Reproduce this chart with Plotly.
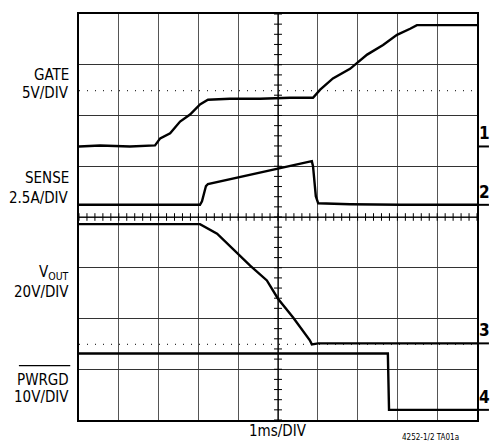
import plotly.graph_objects as go

# ---- data (x in ms = divisions, y in vertical divisions, 0 = bottom) ----
gate_x = [0, 0.53, 1.28, 1.91, 2.04, 2.29, 2.54, 2.79, 3.04, 3.24, 3.79, 4.55, 5.30, 5.88,
          6.06, 6.38, 6.81, 7.24, 7.64, 7.99, 8.32, 8.49, 9.07, 10]
gate_y = [5.39, 5.41, 5.39, 5.41, 5.55, 5.65, 5.88, 6.02, 6.22, 6.31, 6.33, 6.33, 6.35, 6.35,
          6.51, 6.73, 6.92, 7.20, 7.39, 7.59, 7.71, 7.78, 7.78, 7.78]

sense_x = [0, 3.04, 3.09, 3.19, 3.24, 3.87, 4.30, 5.0, 5.55, 5.85, 5.88, 5.95, 6.01, 6.81, 8.07, 10]
sense_y = [4.24, 4.24, 4.31, 4.61, 4.65, 4.76, 4.84, 4.96, 5.06, 5.10, 5.0, 4.41, 4.27, 4.25, 4.24, 4.24]

vout_x = [0, 3.04, 3.47, 3.87, 4.30, 4.72, 5.0, 5.38, 5.80, 5.85, 6.01, 10]
vout_y = [3.86, 3.86, 3.67, 3.37, 3.04, 2.75, 2.39, 2.02, 1.57, 1.49, 1.51, 1.51]

pwrgd_x = [0, 7.76, 7.79, 10]
pwrgd_y = [1.31, 1.31, 0.20, 0.20]

dotted_levels = [6.49, 1.49]
ground_marks = [("1", 5.39), ("2", 4.24), ("3", 1.51), ("4", 0.20)]

labels = [("GATE", 6.79), ("5V/DIV", 6.44), ("SENSE", 4.77), ("2.5A/DIV", 4.37),
          ("V<sub>OUT</sub>", 2.91), ("20V/DIV", 2.52), ("PWRGD", 0.79), ("10V/DIV", 0.45)]

FONT = "Liberation Sans Narrow, DejaVu Sans Condensed, sans-serif"

fig = go.Figure()

# dotted reference lines
for lv in dotted_levels:
    fig.add_trace(go.Scatter(x=[0, 10], y=[lv, lv], mode="lines",
                             line=dict(color="#333", width=1.2, dash="1px,7px"),
                             hoverinfo="skip", showlegend=False))

for xs, ys in [(gate_x, gate_y), (sense_x, sense_y), (vout_x, vout_y), (pwrgd_x, pwrgd_y)]:
    fig.add_trace(go.Scatter(x=xs, y=ys, mode="lines",
                             line=dict(color="black", width=2.4),
                             hoverinfo="skip", showlegend=False))

shapes = []
# center axes with ticks
shapes.append(dict(type="line", xref="x", yref="y", x0=0, x1=10, y0=4, y1=4,
                   line=dict(color="black", width=1.2)))
shapes.append(dict(type="line", xref="x", yref="y", x0=5, x1=5, y0=0, y1=8,
                   line=dict(color="black", width=1.2)))
for i in range(51):
    t = i * 0.2
    shapes.append(dict(type="line", xref="x", yref="y", x0=t, x1=t, y0=4 - 0.075, y1=4 + 0.075,
                       line=dict(color="black", width=1)))
for i in range(41):
    t = i * 0.2
    shapes.append(dict(type="line", xref="x", yref="y", x0=5 - 0.1, x1=5 + 0.1, y0=t, y1=t,
                       line=dict(color="black", width=1)))

# ground markers on the right
annotations = []
for txt, lv in ground_marks:
    shapes.append(dict(type="line", xref="paper", yref="y", x0=1.0, x1=1.03, y0=lv, y1=lv,
                       line=dict(color="black", width=2)))
    annotations.append(dict(text="<b>" + txt + "</b>", xref="paper", yref="y", x=1.02, y=lv,
                            xanchor="center", yanchor="bottom", yshift=1, showarrow=False,
                            font=dict(family=FONT, size=17, color="black")))

for txt, yv in labels:
    annotations.append(dict(text=txt, xref="paper", yref="y", x=-0.022, y=yv,
                            xanchor="right", yanchor="middle", showarrow=False, borderpad=0,
                            font=dict(family=FONT, size=15, color="black")))
# overline for PWRGD
shapes.append(dict(type="line", xref="paper", yref="y", x0=-0.151, x1=-0.022, y0=1.07, y1=1.07,
                   line=dict(color="black", width=1.2)))

annotations.append(dict(text="1ms/DIV", xref="x", yref="paper", x=5, y=-0.027,
                        xanchor="center", yanchor="middle", showarrow=False, borderpad=0,
                        font=dict(family=FONT, size=15, color="black")))
annotations.append(dict(text="4252-1/2 TA01a", xref="paper", yref="paper", x=0.882, y=-0.044,
                        xanchor="center", yanchor="middle", showarrow=False, borderpad=0,
                        font=dict(family=FONT, size=8, color="black")))

# the page body has an 8px margin; shrink the figure so the plot lands where the reference has it
fig.update_layout(
    width=493, height=435,
    margin=dict(l=71, r=24, t=4, b=23),
    paper_bgcolor="white", plot_bgcolor="white",
    shapes=shapes, annotations=annotations,
    xaxis=dict(range=[0, 10], dtick=1, showgrid=True, gridcolor="#555", gridwidth=1,
               showticklabels=False, ticks="", zeroline=False,
               showline=True, mirror=True, linecolor="black", linewidth=2),
    yaxis=dict(range=[0, 8], dtick=1, showgrid=True, gridcolor="#333", gridwidth=1,
               showticklabels=False, ticks="", zeroline=False,
               showline=True, mirror=True, linecolor="black", linewidth=2),
)

fig.write_html("out.html")
